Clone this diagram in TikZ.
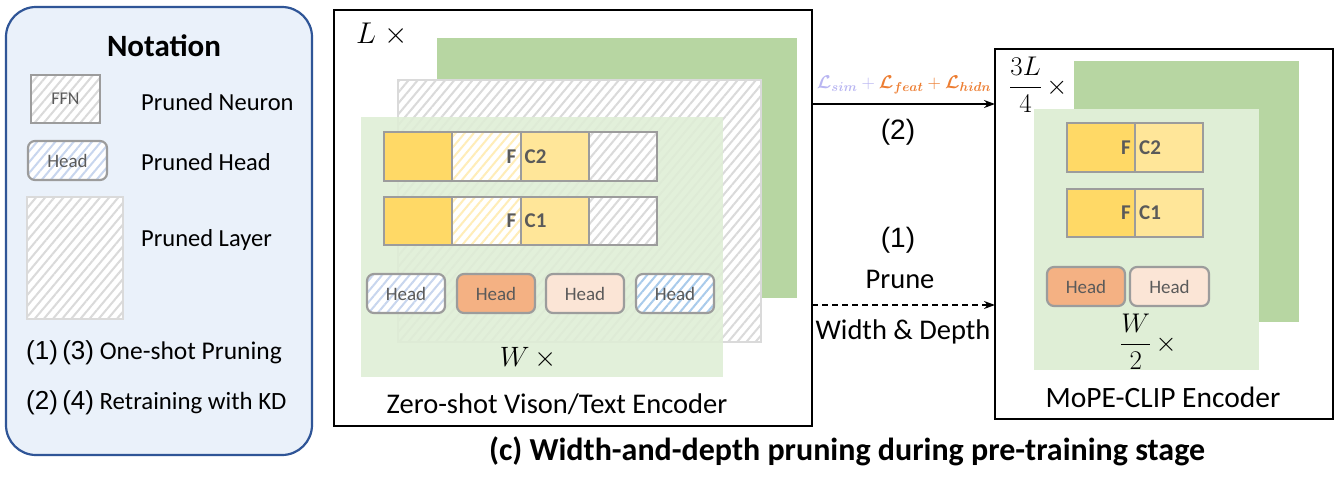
\documentclass[tikz,border=0pt]{standalone}
\usepackage{fix-cm}
\usepackage{amsmath,bm}
\usepackage{fontspec}
\setmainfont{Carlito}
\newfontfamily\arialf{Liberation Sans}
\usetikzlibrary{patterns.meta,arrows.meta,calc}
\definecolor{notefill}{HTML}{EAF1FA}
\definecolor{noteborder}{HTML}{2F5597}
\definecolor{dgreen}{HTML}{B7D6A2}
\definecolor{lgreen}{HTML}{DFEED6}
\definecolor{yel}{HTML}{FFD966}
\definecolor{lyel}{HTML}{FFE699}
\definecolor{hyel}{HTML}{FFEDB8}
\definecolor{orng}{HTML}{F4B183}
\definecolor{peach}{HTML}{FBE5D6}
\definecolor{bord}{HTML}{9C9C9C}
\definecolor{hgray}{HTML}{DADADA}
\definecolor{hblue}{HTML}{C8D6EE}
\definecolor{hblue2}{HTML}{A9CBEB}
\definecolor{txtgray}{HTML}{5A5A5A}
\definecolor{lossA}{HTML}{B9B6F2}
\definecolor{lossB}{HTML}{ED7D31}
\tikzset{
  blk/.style={inner sep=0pt, outer sep=0pt, anchor=north west},
  sz/.style 2 args={minimum width=#1pt, minimum height=#2pt},
  hatch/.style={preaction={fill=white}, pattern={Lines[angle=50,distance=7pt,line width=2pt]}, pattern color=#1},
  cell/.style={blk, draw=bord, line width=2pt},
  headbox/.style={blk, draw=bord, line width=2.2pt, rounded corners=7pt, text=txtgray, font=\fontsize{19}{22}\selectfont},
  fctext/.style={inner sep=0pt, text=txtgray, font=\bfseries\fontsize{21}{24}\selectfont},
  lab/.style={inner sep=0pt, font=\fontsize{24.5}{28}\selectfont},
  big/.style={inner sep=0pt, font=\fontsize{28.5}{32}\selectfont},
  num/.style={inner sep=0pt, font=\arialf\fontsize{28}{32}\selectfont},
  mathlab/.style={inner sep=0pt, font=\fontsize{#1}{#1}\selectfont},
  encbox/.style={blk, draw=black, line width=2pt, fill=white},
  arr/.style={line width=1.5pt, -{Stealth[length=11pt,width=8pt]}},
}
\begin{document}
\begin{tikzpicture}[x=1pt,y=-1pt]
\useasboundingbox[fill=white] (0,0) rectangle (1342,480);

% ---------------- Notation panel ----------------
\node[blk, sz={306}{448}, draw=noteborder, line width=2.2pt, fill=notefill, rounded corners=30pt] (note) at (6,7) {};
\node[inner sep=0pt, font=\bfseries\fontsize{31}{34}\selectfont] (notet) at (164,46) {Notation};
\node[cell, sz={69}{48}, hatch=hgray, text=txtgray, font=\fontsize{18}{20}\selectfont] (lffn) at (31,75) {FFN};
\node[headbox, sz={79}{39}, hatch=hblue] (lhead) at (28,141) {Head};
\node[blk, sz={96}{122}, draw=hgray, line width=2pt, hatch=hgray] (llayer) at (27,197) {};
\node[lab, anchor=west] (tneuron) at (141,102) {Pruned Neuron};
\node[lab, anchor=west] (thead) at (141,162) {Pruned Head};
\node[lab, anchor=west] (tlayer) at (141,240) {Pruned Layer};
\node[lab, anchor=west, font=\fontsize{25.5}{28}\selectfont] (t13) at (26,353) {{\arialf\fontsize{26}{28}\selectfont (1)\,(3)} One-shot Pruning};
\node[lab, anchor=west, font=\fontsize{24.8}{28}\selectfont] (t24) at (26,403) {{\arialf\fontsize{26}{28}\selectfont (2)\,(4)} Retraining with KD};

% ---------------- Zero-shot encoder ----------------
\node[encbox, sz={478}{416}] (enc) at (334,10) {};
\node[mathlab=30, anchor=west] (lx) at (356,34) {$L\;\times$};
\node[blk, sz={360}{260}, fill=dgreen] (g1) at (437,38) {};
\node[blk, sz={363}{262}, draw=hgray, line width=2.5pt, hatch=hgray] (hl) at (398,80) {};
\node[blk, sz={362}{260}, fill=lgreen, fill opacity=0.88] (lg1) at (361,117) {};

\node[cell, sz={68.25}{49}, fill=yel] (a1) at (384,132) {};
\node[cell, sz={68.25}{49}, hatch=hyel] (a2) at (452.25,132) {};
\node[cell, sz={68.25}{49}, fill=lyel] (a3) at (520.5,132) {};
\node[cell, sz={68.25}{49}, hatch=hgray] (a4) at (588.75,132) {};
\node[fctext, anchor=east] (a2t) at ([xshift=-4pt]a2.east) {F};
\node[fctext, anchor=west] (a3t) at ([xshift=4pt]a3.west) {C2};

\node[cell, sz={68.25}{48}, fill=yel] (b1) at (384,197) {};
\node[cell, sz={68.25}{48}, hatch=hyel] (b2) at (452.25,197) {};
\node[cell, sz={68.25}{48}, fill=lyel] (b3) at (520.5,197) {};
\node[cell, sz={68.25}{48}, hatch=hgray] (b4) at (588.75,197) {};
\node[fctext, anchor=east] (b2t) at ([xshift=-4pt]b2.east) {F};
\node[fctext, anchor=west] (b3t) at ([xshift=4pt]b3.west) {C1};

\node[headbox, sz={78}{39}, hatch=hblue] (h1) at (367,274) {Head};
\node[headbox, sz={78}{39}, fill=orng] (h2) at (457,274) {Head};
\node[headbox, sz={78}{39}, fill=peach] (h3) at (546,274) {Head};
\node[headbox, sz={78}{39}, hatch=hblue2] (h4) at (636,274) {Head};
\node[mathlab=28] (wx) at (528,358) {$W\,\times$};
\node[big] (enct) at (557,404) {Zero-shot Vison/Text Encoder};

% ---------------- MoPE-CLIP encoder ----------------
\node[encbox, sz={338}{370}] (mope) at (995,49) {};
\node[blk, sz={225}{261}, fill=dgreen] (g2) at (1074,61) {};
\node[blk, sz={225}{261}, fill=lgreen] (lg2) at (1034,109) {};
\node[mathlab=27, anchor=west] (lx2) at (1009,85) {$\dfrac{3L}{4}\,\times$};
\node[cell, sz={68}{49}, fill=yel] (c1) at (1067,123) {};
\node[cell, sz={68}{49}, fill=lyel] (c2) at (1135,123) {};
\node[fctext, anchor=east] (c1t) at ([xshift=-4pt]c1.east) {F};
\node[fctext, anchor=west] (c2t) at ([xshift=4pt]c2.west) {C2};
\node[cell, sz={68}{48}, fill=yel] (d1) at (1067,189) {};
\node[cell, sz={68}{48}, fill=lyel] (d2) at (1135,189) {};
\node[fctext, anchor=east] (d1t) at ([xshift=-4pt]d1.east) {F};
\node[fctext, anchor=west] (d2t) at ([xshift=4pt]d2.west) {C1};
\node[headbox, sz={78}{39}, fill=orng] (k1) at (1047,267) {Head};
\node[headbox, sz={79}{39}, fill=peach] (k2) at (1130,267) {Head};
\node[mathlab=27, anchor=west] (wx2) at (1120,342) {$\dfrac{W}{2}\,\times$};
\node[big, font=\fontsize{29.5}{32}\selectfont] (mopet) at (1163,397) {MoPE-CLIP Encoder};

% ---------------- Arrows ----------------
\coordinate (ya) at (0,104);
\coordinate (yb) at (0,305);
\draw[arr] (enc.east |- ya) -- (mope.west |- ya);
\draw[arr, dash pattern=on 6pt off 4pt] (enc.east |- yb) -- (mope.west |- yb);
\node[inner sep=0pt, font=\fontsize{18.5}{20}\selectfont] (loss) at (904,85)
  {$\color{lossA}\bm{\mathcal{L}}_{\bm{sim}}+\color{lossB}\bm{\mathcal{L}}_{\bm{feat}}+\bm{\mathcal{L}}_{\bm{hidn}}$};
\node[num] (s2) at (898,132) {(2)};
\node[num] (s1) at (898,240) {(1)};
\node[big] (prune) at (900,279) {Prune};
\node[big] (wd) at (903,332) {Width \& Depth};

% ---------------- Caption ----------------
\node[inner sep=0pt, font=\bfseries\fontsize{32}{36}\selectfont] (cap) at (847,451) {(c) Width-and-depth pruning during pre-training stage};
\end{tikzpicture}
\end{document}
